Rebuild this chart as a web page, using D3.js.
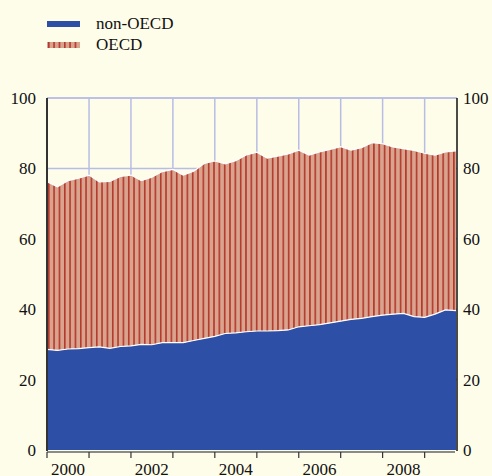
<!DOCTYPE html>
<html>
  <meta charset="utf-8">
  <head>
    <script src="https://d3js.org/d3.v7.min.js"></script>
    <style>
      body { margin: 0; background: #fefdea; }
      svg text { font-family: "Liberation Serif", "Times New Roman", Times, "DejaVu Serif", serif !important; }
    </style>
  </head>
  <body>
    <div id="viz"></div>

    <script type="text/javascript">
      // quarterly data, 2000 Q1 .. 2009 Q4 (share, %)
      var quarters = d3.range(40).map((i) => new Date(2000, i * 3, 1));
      var nonOecd = [28.6, 28.3, 28.7, 28.8, 29.1, 29.3, 28.9, 29.4, 29.6, 30.0,
                     29.9, 30.5, 30.5, 30.5, 31.1, 31.7, 32.3, 33.1, 33.3, 33.6,
                     33.8, 33.8, 33.9, 34.1, 35.0, 35.3, 35.6, 36.1, 36.6, 37.1,
                     37.4, 37.9, 38.3, 38.6, 38.8, 37.9, 37.7, 38.6, 39.8, 39.6];
      var oecd = [47.6, 46.5, 47.8, 48.4, 49.0, 46.9, 47.4, 48.3, 48.5, 46.5,
                  47.6, 48.6, 49.2, 47.6, 48.1, 49.7, 49.8, 48.2, 48.9, 50.2,
                  50.8, 49.1, 49.6, 50.0, 50.2, 48.5, 49.1, 49.3, 49.6, 48.1,
                  48.5, 49.4, 48.7, 47.5, 46.8, 47.2, 46.6, 45.2, 44.9, 45.4];
      var seriesNames = ["non-OECD", "OECD"];
      var yTicks = [0, 20, 40, 60, 80, 100];
      var yearLabels = [2000, 2002, 2004, 2006, 2008];

      var width = 492, height = 476;
      var plotLeft = 47, plotRight = 457, plotTop = 98, plotBottom = 450;
      var serif = "'Liberation Serif', 'Times New Roman', Times, 'DejaVu Serif', serif";

      var svg = d3.select("#viz").append("svg")
        .attr("width", width)
        .attr("height", height)
        .attr("font-family", serif);

      var defs = svg.append("defs");
      var pat = defs.append("pattern")
        .attr("id", "hatch")
        .attr("patternUnits", "userSpaceOnUse")
        .attr("width", 5.33)
        .attr("height", 10);
      pat.append("rect").attr("width", 5.33).attr("height", 10).attr("fill", "#d9a38e");
      pat.append("rect").attr("x", 0).attr("width", 1.6).attr("height", 10).attr("fill", "#b3382b");

      var data = quarters.map((d, i) => ({date: d, "non-OECD": nonOecd[i], "OECD": oecd[i]}));

      var x = d3.scaleTime()
        .domain([new Date(2000, 0, 1), new Date(2009, 9, 1)])
        .range([plotLeft, 456]);
      var y = d3.scaleLinear()
        .domain([0, 100])
        .range([plotBottom, plotTop]);

      // grid
      var grid = svg.append("g");
      grid.selectAll(".hg")
        .data(yTicks.filter((t) => t > 0))
        .enter().append("line")
          .attr("x1", plotLeft).attr("x2", plotRight)
          .attr("y1", (d) => y(d)).attr("y2", (d) => y(d))
          .attr("stroke", "#b8bde6").attr("stroke-width", 1.5);
      grid.selectAll(".vg")
        .data(d3.range(2001, 2010))
        .enter().append("line")
          .attr("x1", (d) => x(new Date(d, 0, 1))).attr("x2", (d) => x(new Date(d, 0, 1)))
          .attr("y1", plotTop).attr("y2", plotBottom)
          .attr("stroke", "#b8bde6").attr("stroke-width", 1.5);

      // stacked areas
      var stacked = d3.stack().keys(seriesNames)(data);
      var area = d3.area()
        .x((d) => x(d.data.date))
        .y0((d) => y(d[0]))
        .y1((d) => y(d[1]));
      var fills = ["#2d4fa6", "url(#hatch)"];
      svg.selectAll(".layer")
        .data(stacked)
        .enter().append("path")
          .attr("d", area)
          .attr("fill", (d, i) => fills[i]);
      var topLine = d3.line()
        .x((d) => x(d.data.date))
        .y((d) => y(d[1]));
      svg.selectAll(".edge")
        .data(stacked)
        .enter().append("path")
          .attr("d", topLine)
          .attr("fill", "none")
          .attr("stroke", "#ffffff")
          .attr("stroke-width", 1.2);

      // frame
      svg.append("line").attr("x1", plotLeft).attr("x2", plotRight).attr("y1", plotTop).attr("y2", plotTop)
        .attr("stroke", "#b8bde6").attr("stroke-width", 1.5);
      svg.append("line").attr("x1", plotLeft).attr("x2", plotLeft).attr("y1", plotTop).attr("y2", plotBottom + 1)
        .attr("stroke", "#333").attr("stroke-width", 2);
      svg.append("line").attr("x1", plotRight).attr("x2", plotRight).attr("y1", plotTop).attr("y2", plotBottom + 1)
        .attr("stroke", "#111").attr("stroke-width", 1.5);

      // y axes
      var yl = svg.append("g")
        .attr("transform", "translate(" + (plotLeft - 11) + ",0)")
        .call(d3.axisLeft(y).tickValues(yTicks).tickSize(0).tickPadding(0));
      var yr = svg.append("g")
        .attr("transform", "translate(" + (plotRight + 6) + ",0)")
        .call(d3.axisRight(y).tickValues(yTicks).tickSize(0).tickPadding(0));
      [yl, yr].forEach((g) => {
        g.attr("font-family", serif).attr("font-size", 17);
        g.select(".domain").remove();
        g.selectAll("text").attr("fill", "#111");
      });

      // x axis
      svg.append("line")
        .attr("x1", plotLeft).attr("x2", plotRight - 2)
        .attr("y1", plotBottom + 2).attr("y2", plotBottom + 2)
        .attr("stroke", "#8a8a8a").attr("stroke-width", 2);
      svg.selectAll(".xt")
        .data(d3.range(2000, 2010))
        .enter().append("line")
          .attr("x1", (d) => x(new Date(d, 0, 1))).attr("x2", (d) => x(new Date(d, 0, 1)))
          .attr("y1", plotBottom + 2).attr("y2", plotBottom + 8)
          .attr("stroke", "#333").attr("stroke-width", 1.2);
      svg.selectAll(".xl")
        .data(yearLabels)
        .enter().append("text")
          .attr("x", (d) => x(new Date(d, 6, 1)))
          .attr("y", 475)
          .attr("text-anchor", "middle")
          .attr("font-size", 17)
          .attr("fill", "#111")
          .text((d) => d);

      // legend
      var legend = svg.append("g");
      seriesNames.forEach((name, i) => {
        var ly = 24 + i * 21;
        legend.append("rect")
          .attr("x", 47).attr("y", ly - 3).attr("width", 33).attr("height", 6)
          .attr("fill", fills[i]);
        legend.append("text")
          .attr("x", 96).attr("y", ly + 5)
          .attr("font-size", 17)
          .attr("fill", "#111")
          .text(name);
      });
    </script>
  </body>
</html>
